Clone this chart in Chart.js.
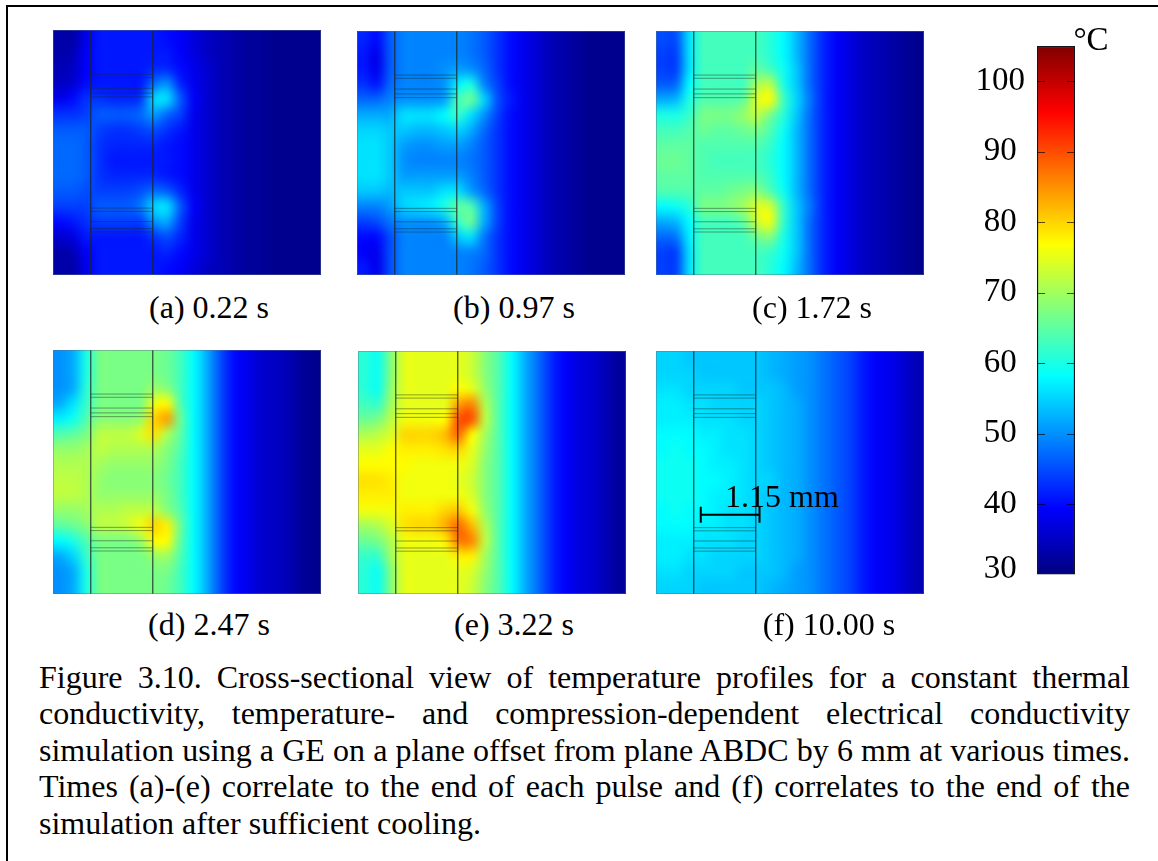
<!DOCTYPE html>
<html>
<head>
<meta charset="utf-8">
<title>Figure 3.10</title>
<script src="https://cdn.jsdelivr.net/npm/chart.js@4"></script>
<style>
    html, body { margin: 0; padding: 0; background: #fff; }
    body { position: relative; width: 1158px; height: 861px; overflow: hidden; font-family: "Liberation Serif", serif; color: #000; }
    canvas { position: absolute; }
    .frame { position: absolute; left: 6px; top: 5px; width: 1152px; height: 856px; border-top: 2px solid #000; border-left: 2px solid #000; box-sizing: border-box; }
    .label { position: absolute; font-size: 32px; line-height: 36px; white-space: nowrap; transform: translateX(-50%); }
    .caption { position: absolute; left: 39px; font-size: 32px; line-height: 36px; white-space: nowrap; }
</style>
</head>
<body>
<div class="frame"></div>
<div id="figure"></div>
<div class="label" style="left:1091px;top:21px;font-size:33px">°C</div>
<div class="label" style="left:782px;top:478px;font-size:32px">1.15 mm</div>
<div id="captions"></div>

<script>
// Temperatures in deg C, rows top to bottom, columns left to right
const tempsA = [
    [33,33,38,41,41,41,41,41,40,39,37,35,34,33,32,32,31,31,31,31],
    [33,34,39,41,41,41,41,41,41,39,37,35,34,33,32,32,31,31,31,31],
    [34,35,39,41,41,41,41,42,42,40,38,36,34,33,32,32,31,31,31,31],
    [35,36,40,41,41,41,41,47,50,42,38,36,34,33,32,32,31,31,31,31],
    [38,40,43,43,42,42,43,55,56,46,39,36,34,33,32,32,31,31,31,31],
    [43,43,44,46,46,46,47,51,47,44,38,36,34,33,32,32,31,31,31,31],
    [46,46,46,44,43,43,44,45,43,41,38,36,34,33,32,32,31,31,31,31],
    [47,47,46,43,42,42,42,42,41,40,38,36,34,33,32,32,31,31,31,31],
    [47,47,46,43,41,41,41,41,41,40,38,36,34,33,32,32,31,31,31,31],
    [47,47,46,43,42,42,42,42,41,40,38,36,34,33,32,32,31,31,31,31],
    [46,46,45,44,44,44,45,47,46,42,38,36,34,33,32,32,31,31,31,31],
    [44,44,44,46,46,46,48,55,56,46,39,36,34,33,32,32,31,31,31,31],
    [40,41,43,44,44,44,44,50,52,44,38,36,34,33,32,32,31,31,31,31],
    [36,37,41,41,41,41,41,43,45,42,38,36,34,33,32,32,31,31,31,31],
    [33,34,39,41,41,41,41,41,42,40,38,36,34,33,32,32,31,31,31,31],
    [33,33,38,41,41,41,41,41,40,39,37,35,34,33,32,32,31,31,31,31],
];
const tempsB = [
    [42,40,46,49,49,49,49,49,48,46,43,40,38,36,34,33,32,31,31,31],
    [41,38,46,49,49,49,49,49,48,46,43,40,38,36,34,33,32,31,31,31],
    [41,38,46,49,49,49,50,51,50,47,43,40,38,36,34,33,32,31,31,31],
    [43,41,47,49,49,49,50,57,60,49,44,40,38,36,34,33,32,31,31,31],
    [47,47,49,50,50,50,51,63,66,55,45,41,38,36,34,33,32,31,31,31],
    [52,52,52,56,56,56,58,62,56,50,44,40,38,36,34,33,32,31,31,31],
    [55,55,54,54,53,53,54,55,52,47,43,40,38,36,34,33,32,31,31,31],
    [56,56,54,51,50,50,51,51,49,46,43,40,38,36,34,33,32,31,31,31],
    [56,56,54,50,49,49,49,49,48,46,43,40,38,36,34,33,32,31,31,31],
    [56,56,54,51,51,51,51,51,49,46,43,40,38,36,34,33,32,31,31,31],
    [54,54,53,54,54,54,56,56,51,47,43,40,38,36,34,33,32,31,31,31],
    [49,49,51,55,56,57,60,65,64,52,44,40,38,36,34,33,32,31,31,31],
    [44,45,48,50,50,50,52,62,66,52,44,40,38,36,34,33,32,31,31,31],
    [40,40,45,49,49,49,49,54,56,48,43,40,38,36,34,33,32,31,31,31],
    [39,38,45,49,49,49,49,49,49,47,43,40,38,36,34,33,32,31,31,31],
    [41,38,45,49,49,49,49,49,48,46,43,40,38,36,34,33,32,31,31,31],
];
const tempsC = [
    [45,45,56,63,63,63,63,63,61,58,53,47,42,39,37,35,34,33,32,31],
    [44,44,56,63,63,63,63,63,61,58,53,47,42,39,37,35,34,33,32,31],
    [44,44,56,63,63,63,63,65,63,59,54,47,42,39,37,35,34,33,32,31],
    [46,47,58,63,63,63,63,70,72,60,54,47,42,39,37,35,34,33,32,31],
    [52,53,60,64,64,64,65,74,77,63,55,48,42,39,37,35,34,33,32,31],
    [60,60,62,67,67,67,69,72,67,61,54,47,42,39,37,35,34,33,32,31],
    [63,63,64,66,65,65,66,67,64,59,53,47,42,39,37,35,34,33,32,31],
    [65,65,65,64,64,64,64,64,62,58,53,47,42,39,37,35,34,33,32,31],
    [66,66,65,64,63,63,63,63,61,58,53,47,42,39,37,35,34,33,32,31],
    [65,65,65,64,64,64,64,64,62,58,53,47,42,39,37,35,34,33,32,31],
    [64,64,64,65,65,66,67,68,64,59,53,47,42,39,37,35,34,33,32,31],
    [58,59,61,67,67,68,70,74,74,62,54,48,42,39,37,35,34,33,32,31],
    [52,53,58,63,63,63,65,73,76,62,54,47,42,39,37,35,34,33,32,31],
    [47,48,57,63,63,63,63,66,68,60,54,47,42,39,37,35,34,33,32,31],
    [44,44,56,63,63,63,63,63,62,59,54,47,42,39,37,35,34,33,32,31],
    [44,44,56,63,63,63,63,63,61,58,53,47,42,39,37,35,34,33,32,31],
];
const tempsD = [
    [50,52,60,67,67,67,67,67,66,63,58,52,45,40,38,36,35,34,32,31],
    [50,52,60,67,67,67,67,67,66,63,58,52,45,40,38,36,35,34,32,31],
    [50,52,61,67,67,67,67,69,68,63,58,52,45,40,38,36,35,34,32,31],
    [52,56,62,67,67,67,67,75,77,64,58,52,45,40,38,36,35,34,32,31],
    [57,59,64,68,68,68,69,80,84,66,58,52,45,40,38,36,35,34,32,31],
    [64,65,67,72,72,72,74,79,71,65,58,52,45,40,38,36,35,34,32,31],
    [69,69,70,72,71,71,71,71,68,64,58,52,45,40,38,36,35,34,32,31],
    [71,71,71,70,69,69,69,69,67,63,58,52,45,40,38,36,35,34,32,31],
    [72,72,71,69,68,68,68,68,66,63,58,52,45,40,38,36,35,34,32,31],
    [72,72,71,69,69,69,69,69,67,63,58,52,45,40,38,36,35,34,32,31],
    [69,69,70,71,71,72,72,72,68,64,58,52,45,40,38,36,35,34,32,31],
    [65,66,68,72,72,73,76,80,78,66,58,52,45,40,38,36,35,34,32,31],
    [58,60,64,67,67,67,69,77,77,65,58,52,45,40,38,36,35,34,32,31],
    [52,55,62,67,67,67,67,69,70,64,58,52,45,40,38,36,35,34,32,31],
    [50,52,60,67,67,67,67,67,67,63,58,52,45,40,38,36,35,34,32,31],
    [50,52,60,67,67,67,67,67,66,63,58,52,45,40,38,36,35,34,32,31],
];
const tempsE = [
    [61,59,68,75,75,75,75,75,73,68,64,58,52,47,42,39,37,36,34,32],
    [61,59,68,75,75,75,75,75,73,68,64,58,52,47,42,39,37,36,34,32],
    [61,59,69,75,75,75,75,77,75,69,64,58,52,47,42,39,37,36,34,32],
    [63,62,70,75,75,75,75,84,86,71,64,58,52,47,42,39,37,36,34,32],
    [66,67,72,76,76,76,77,90,90,72,64,58,52,47,42,39,37,36,34,32],
    [71,72,74,80,80,80,82,88,77,70,64,58,52,47,42,39,37,36,34,32],
    [75,75,77,78,78,78,79,80,75,69,64,58,52,47,42,39,37,36,34,32],
    [77,77,77,77,76,76,76,76,74,68,64,58,52,47,42,39,37,36,34,32],
    [79,79,78,76,76,76,76,75,73,68,64,58,52,47,42,39,37,36,34,32],
    [78,78,78,76,76,76,76,76,74,68,64,58,52,47,42,39,37,36,34,32],
    [76,76,76,78,78,78,80,81,76,69,64,58,52,47,42,39,37,36,34,32],
    [70,71,74,79,80,80,83,88,82,71,64,58,52,47,42,39,37,36,34,32],
    [66,67,71,76,76,76,78,87,86,72,64,58,52,47,42,39,37,36,34,32],
    [62,62,70,75,75,75,75,78,78,70,64,58,52,47,42,39,37,36,34,32],
    [61,59,68,75,75,75,75,75,74,69,64,58,52,47,42,39,37,36,34,32],
    [61,59,68,75,75,75,75,75,73,68,64,58,52,47,42,39,37,36,34,32],
];
const tempsF = [
    [55,55,54,54,54,54,54,54,53,52,51,50,48,46,44,41,39,38,36,34],
    [55,55,55,54,54,54,54,54,53,52,51,50,48,46,44,41,39,38,36,34],
    [56,56,55,55,55,55,54,54,54,53,51,50,48,46,44,41,39,38,36,34],
    [57,57,56,56,55,55,55,55,54,53,52,50,48,46,44,41,39,38,36,34],
    [57,57,57,56,56,56,55,55,54,53,52,50,48,46,44,41,39,38,36,34],
    [58,58,58,57,57,56,56,55,54,53,52,50,48,46,44,41,39,38,36,34],
    [58,59,58,58,57,56,56,55,54,53,52,50,48,46,44,41,39,38,36,34],
    [59,59,59,58,57,57,56,55,54,53,52,50,48,46,44,41,39,38,36,34],
    [59,59,59,58,58,57,56,55,55,53,52,50,48,46,44,41,39,38,36,34],
    [59,59,59,58,57,57,56,55,54,53,52,50,48,46,44,41,39,38,36,34],
    [58,59,58,58,57,56,56,55,54,53,52,50,48,46,44,41,39,38,36,34],
    [58,58,58,57,57,56,56,55,54,53,52,50,48,46,44,41,39,38,36,34],
    [57,57,57,56,56,56,55,55,54,53,52,50,48,46,44,41,39,38,36,34],
    [57,57,56,56,55,55,55,55,54,53,52,50,48,46,44,41,39,38,36,34],
    [56,56,55,55,55,55,54,54,54,53,51,50,48,46,44,41,39,38,36,34],
    [55,55,55,54,54,54,54,54,53,52,51,50,48,46,44,41,39,38,36,34],
];

// Cross-section geometry in mm
const sectionWidthMm = 4.97;
const sectionHeightMm = 4.54;
const electrodeEdgesMm = [0.70, 1.85];
const layerLinesMm = [0.82, 0.88, 1.08, 1.17, 1.24, 3.30, 3.36, 3.55, 3.68, 3.74];

// Colorbar
const colorbarMin = 30;
const colorbarMax = 105;
const colorbarTicks = [30, 40, 50, 60, 70, 80, 90, 100];
const jetTemps = [30, 39.375, 58.125, 76.875, 95.625, 105];
const jetColors = [[0, 0, 128], [0, 0, 255], [0, 255, 255], [255, 255, 0], [255, 0, 0], [128, 0, 0]];

// Panels on the page
const panels = [
    { temps: tempsA, name: '(a) 0.22 s', left: 53, top: 30, width: 268, height: 245, labelX: 209, labelY: 289 },
    { temps: tempsB, name: '(b) 0.97 s', left: 357, top: 31, width: 268, height: 244, labelX: 514, labelY: 289 },
    { temps: tempsC, name: '(c) 1.72 s', left: 656, top: 31, width: 268, height: 244, labelX: 812, labelY: 289 },
    { temps: tempsD, name: '(d) 2.47 s', left: 53, top: 350, width: 268, height: 244, labelX: 209, labelY: 606 },
    { temps: tempsE, name: '(e) 3.22 s', left: 358, top: 351, width: 268, height: 243, labelX: 514, labelY: 606 },
    { temps: tempsF, name: '(f) 10.00 s', left: 656, top: 351, width: 268, height: 243, labelX: 829, labelY: 606, scaleBar: true },
];

const captionLines = [
    'Figure 3.10. Cross-sectional view of temperature profiles for a constant thermal',
    'conductivity, temperature- and compression-dependent electrical conductivity',
    'simulation using a GE on a plane offset from plane ABDC by 6 mm at various times.',
    'Times (a)-(e) correlate to the end of each pulse and (f) correlates to the end of the',
    'simulation after sufficient cooling.',
];

// Temperature to jet colour
function jetColor(temp) {
    let i = 0;
    while (i < jetTemps.length - 2 && temp > jetTemps[i + 1]) i++;
    const f = Math.min(1, Math.max(0, (temp - jetTemps[i]) / (jetTemps[i + 1] - jetTemps[i])));
    const rgb = jetColors[i].map((c, k) => Math.round(c + (jetColors[i + 1][k] - c) * f));
    return `rgb(${rgb.join(',')})`;
}

// Cells are drawn by the chart, then resampled so the field looks continuous like the FEM plot
const smoothField = {
    id: 'smoothField',
    afterDatasetDraw(chart, args) {
        if (args.index !== 0) return;
        const { left, top, width, height } = chart.chartArea;
        const rows = chart.data.datasets[0].rows;
        const cols = chart.data.datasets[0].cols;
        const small = document.createElement('canvas');
        small.width = cols;
        small.height = rows;
        const sctx = small.getContext('2d');
        sctx.imageSmoothingEnabled = false;
        sctx.drawImage(chart.canvas, left, top, width, height, 0, 0, cols, rows);
        chart.ctx.imageSmoothingEnabled = true;
        chart.ctx.imageSmoothingQuality = 'high';
        chart.ctx.drawImage(small, 0, 0, cols, rows, left, top, width, height);
    }
};

// Electrode outline and layer lines, broken up with NaN points
function electrodeLines() {
    const pts = [];
    electrodeEdgesMm.forEach(x => {
        pts.push({ x: x, y: 0 }, { x: x, y: sectionHeightMm }, { x: NaN, y: NaN });
    });
    layerLinesMm.forEach(y => {
        pts.push({ x: electrodeEdgesMm[0], y: y }, { x: electrodeEdgesMm[1], y: y }, { x: NaN, y: NaN });
    });
    return pts;
}

function scaleBarLines() {
    // 1.15 mm bar with end caps, in section coordinates of panel (f)
    const barY = 3.06, x0 = 0.83, x1 = 1.92;
    return [
        { x: x0, y: barY }, { x: x1, y: barY }, { x: NaN, y: NaN },
        { x: x0, y: barY - 0.15 }, { x: x0, y: barY + 0.15 }, { x: NaN, y: NaN },
        { x: x1, y: barY - 0.15 }, { x: x1, y: barY + 0.15 },
    ];
}

function drawPanel(panel) {
    const canvas = document.createElement('canvas');
    canvas.width = panel.width;
    canvas.height = panel.height;
    canvas.style.left = panel.left + 'px';
    canvas.style.top = panel.top + 'px';
    canvas.style.outline = '1px solid rgba(90,110,130,0.45)';
    canvas.style.outlineOffset = '-1px';
    document.getElementById('figure').appendChild(canvas);

    const rows = panel.temps.length;
    const cols = panel.temps[0].length;
    const cells = [];
    const colors = [];
    panel.temps.forEach((row, r) => {
        row.forEach((temp, c) => {
            cells.push({ x: (c + 0.5) * sectionWidthMm / cols, y: (r + 0.5) * sectionHeightMm / rows });
            colors.push(jetColor(temp));
        });
    });

    const datasets = [
        {
            data: cells,
            rows: rows,
            cols: cols,
            order: 3,
            pointStyle: 'rect',
            pointRadius: 11.5,
            pointBorderWidth: 0,
            pointBackgroundColor: colors,
            showLine: false,
        },
        {
            data: electrodeLines(),
            order: 2,
            showLine: true,
            pointRadius: 0,
            borderWidth: 1,
            borderColor: 'rgba(30,40,40,0.45)',
            spanGaps: false,
        },
    ];
    if (panel.scaleBar) {
        datasets.push({
            data: scaleBarLines(),
            order: 1,
            showLine: true,
            pointRadius: 0,
            borderWidth: 2,
            borderColor: '#000',
            spanGaps: false,
        });
    }

    new Chart(canvas, {
        type: 'scatter',
        data: { datasets: datasets },
        options: {
            responsive: false,
            animation: false,
            events: [],
            layout: { padding: 0, autoPadding: false },
            plugins: { legend: { display: false }, tooltip: { enabled: false } },
            scales: {
                x: { type: 'linear', display: false, min: 0, max: sectionWidthMm },
                y: { type: 'linear', display: false, min: 0, max: sectionHeightMm, reverse: true },
            },
        },
        plugins: [smoothField],
    });

    const label = document.createElement('div');
    label.className = 'label';
    label.textContent = panel.name;
    label.style.left = panel.labelX + 'px';
    label.style.top = panel.labelY + 'px';
    document.body.appendChild(label);
}

// Short inward ticks on both sides of the colorbar
const colorbarTickMarks = {
    id: 'colorbarTickMarks',
    beforeDraw(chart) {
        // the 30 label sits a little above the bottom of the bar
        const items = chart.scales.y.getLabelItems(chart.chartArea);
        if (!chart.labelNudged) {
            items[0].options.translation[1] -= 5;
            chart.labelNudged = true;
        }
    },
    afterDatasetsDraw(chart) {
        const { ctx, chartArea, scales } = chart;
        ctx.save();
        ctx.strokeStyle = 'rgba(0,0,0,0.65)';
        ctx.lineWidth = 1;
        colorbarTicks.slice(1).forEach(v => {
            const y = Math.round(scales.y.getPixelForValue(v)) + 0.5;
            ctx.beginPath();
            ctx.moveTo(chartArea.left, y);
            ctx.lineTo(chartArea.left + 8, y);
            ctx.moveTo(chartArea.right - 8, y);
            ctx.lineTo(chartArea.right, y);
            ctx.stroke();
        });
        ctx.restore();
    }
};

function drawColorbar() {
    const canvas = document.createElement('canvas');
    canvas.width = 130;
    canvas.height = 590;
    canvas.style.left = '960px';
    canvas.style.top = '20px';
    document.getElementById('figure').appendChild(canvas);

    new Chart(canvas, {
        type: 'bar',
        data: {
            labels: ['°C'],
            datasets: [{
                data: [[colorbarMin, colorbarMax]],
                barPercentage: 1,
                categoryPercentage: 1,
                borderColor: '#15151f',
                borderWidth: 1.5,
                borderSkipped: false,
                backgroundColor: ctx => {
                    const y = ctx.chart.scales.y;
                    if (!ctx.chart.chartArea) return '#000';
                    const grad = ctx.chart.ctx.createLinearGradient(0, y.getPixelForValue(colorbarMin), 0, y.getPixelForValue(colorbarMax));
                    jetTemps.forEach(t => {
                        grad.addColorStop((t - colorbarMin) / (colorbarMax - colorbarMin), jetColor(t));
                    });
                    return grad;
                },
            }],
        },
        options: {
            responsive: false,
            animation: false,
            events: [],
            layout: { padding: { top: 26, bottom: 35.5, left: 0, right: 15 }, autoPadding: false },
            plugins: { legend: { display: false }, tooltip: { enabled: false } },
            scales: {
                x: { display: false },
                y: {
                    min: colorbarMin,
                    max: colorbarMax,
                    grid: { display: false, drawTicks: false },
                    border: { display: false },
                    afterBuildTicks: axis => { axis.ticks = colorbarTicks.map(v => ({ value: v })); },
                    afterFit: axis => {
                        axis.width = 77;
                        axis.paddingTop = 0;
                        axis.paddingBottom = 0;
                    },
                    ticks: {
                        padding: 12,
                        crossAlign: 'center',
                        color: '#000',
                        font: { family: '"Liberation Serif", serif', size: 33 },
                    },
                },
            },
        },
        plugins: [colorbarTickMarks],
    });
}

// Caption lines are spread to the same right edge, like the justified text in the figure
function addCaption() {
    const holder = document.getElementById('captions');
    const lineWidth = 1091;
    captionLines.forEach((line, i) => {
        const div = document.createElement('div');
        div.className = 'caption';
        div.textContent = line;
        div.style.top = (658.5 + i * 36.6) + 'px';
        holder.appendChild(div);
        if (i < captionLines.length - 1) {
            const gaps = line.split(' ').length - 1;
            const natural = div.getBoundingClientRect().width;
            div.style.wordSpacing = ((lineWidth - natural) / gaps) + 'px';
        }
    });
}

panels.forEach(drawPanel);
drawColorbar();
addCaption();
</script>
</body>
</html>
